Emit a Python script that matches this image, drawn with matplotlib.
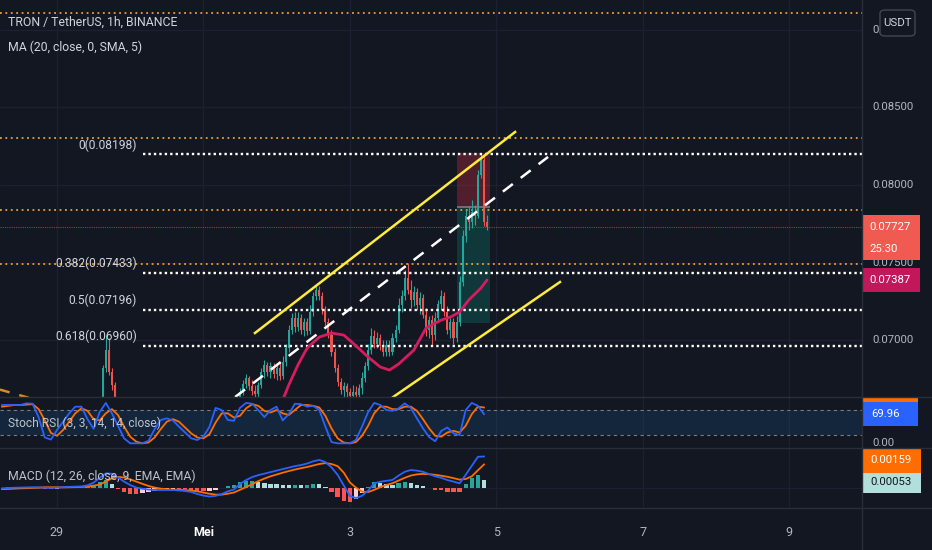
import matplotlib
matplotlib.use("Agg")
import matplotlib.pyplot as plt
import numpy as np
from matplotlib import font_manager
from matplotlib.patches import Rectangle, FancyBboxPatch
from matplotlib.lines import Line2D
from matplotlib.transforms import blended_transform_factory as blend, Bbox, TransformedBbox

# ---------------- data (hours counted from 29 Apr 00:00) ----------------
candle_hours = [15, 16, 17, 18, 19] + list(range(60, 142))
opens = [0.06613, 0.06819, 0.06935, 0.06794, 0.06710,
         0.06613, 0.06665, 0.06716, 0.06755, 0.06703, 0.06671, 0.06652, 0.06710, 0.06794, 0.06839,
         0.06794, 0.06832, 0.06781, 0.06819, 0.06768, 0.06858, 0.06948, 0.07065, 0.07142, 0.07084,
         0.07142, 0.07065, 0.07116, 0.07058, 0.07181, 0.07284, 0.07323, 0.07284, 0.07194, 0.07116,
         0.07032, 0.06923, 0.06819, 0.06729, 0.06677, 0.06703, 0.06665, 0.06639, 0.06665, 0.06645,
         0.06690, 0.06755, 0.06832, 0.06935, 0.07026, 0.06974, 0.07013, 0.06961, 0.06923, 0.06968,
         0.06923, 0.07013, 0.07065, 0.07226, 0.07284, 0.07400, 0.07323, 0.07258, 0.07310, 0.07226,
         0.07271, 0.07161, 0.07065, 0.07129, 0.07032, 0.07142, 0.07232, 0.07284, 0.07181, 0.07065,
         0.07116, 0.07013, 0.07116, 0.07374, 0.07671, 0.07800, 0.07761, 0.07826, 0.07800, 0.08065,
         0.08161, 0.07761]
closes = [0.06819, 0.06935, 0.06794, 0.06710, 0.06626,
          0.06665, 0.06716, 0.06755, 0.06703, 0.06671, 0.06652, 0.06710, 0.06794, 0.06839, 0.06794,
          0.06832, 0.06781, 0.06819, 0.06768, 0.06858, 0.06948, 0.07065, 0.07142, 0.07084, 0.07142,
          0.07065, 0.07116, 0.07058, 0.07181, 0.07284, 0.07323, 0.07284, 0.07194, 0.07116, 0.07032,
          0.06923, 0.06819, 0.06729, 0.06677, 0.06703, 0.06665, 0.06639, 0.06665, 0.06645, 0.06690,
          0.06755, 0.06832, 0.06935, 0.07026, 0.06974, 0.07013, 0.06961, 0.06923, 0.06968, 0.06923,
          0.07013, 0.07065, 0.07226, 0.07284, 0.07400, 0.07323, 0.07258, 0.07310, 0.07226, 0.07271,
          0.07161, 0.07065, 0.07129, 0.07032, 0.07142, 0.07232, 0.07284, 0.07181, 0.07065, 0.07116,
          0.07013, 0.07116, 0.07374, 0.07671, 0.07800, 0.07761, 0.07826, 0.07800, 0.08065, 0.08161,
          0.07761, 0.07727]
highs = [0.06839, 0.07032, 0.07013, 0.06819, 0.06729,
         0.06690, 0.06742, 0.06781, 0.06768, 0.06742, 0.06710, 0.06729, 0.06819, 0.06871, 0.06858,
         0.06858, 0.06852, 0.06852, 0.06858, 0.06897, 0.06974, 0.07097, 0.07174, 0.07181, 0.07181,
         0.07168, 0.07142, 0.07142, 0.07226, 0.07310, 0.07355, 0.07348, 0.07310, 0.07219, 0.07142,
         0.07065, 0.06948, 0.06845, 0.06755, 0.06729, 0.06723, 0.06690, 0.06710, 0.06703, 0.06716,
         0.06794, 0.06858, 0.06974, 0.07077, 0.07065, 0.07052, 0.07039, 0.07000, 0.07000, 0.07000,
         0.07045, 0.07097, 0.07271, 0.07323, 0.07452, 0.07497, 0.07387, 0.07348, 0.07335, 0.07310,
         0.07297, 0.07206, 0.07155, 0.07161, 0.07181, 0.07258, 0.07323, 0.07310, 0.07219, 0.07142,
         0.07142, 0.07155, 0.07413, 0.07710, 0.07839, 0.07865, 0.07903, 0.07871, 0.08097, 0.08198,
         0.08194, 0.07806]
lows = [0.06600, 0.06794, 0.06774, 0.06677, 0.06580,
        0.06600, 0.06645, 0.06690, 0.06677, 0.06645, 0.06613, 0.06626, 0.06690, 0.06755, 0.06768,
        0.06755, 0.06755, 0.06742, 0.06742, 0.06748, 0.06832, 0.06923, 0.07039, 0.07052, 0.07058,
        0.07039, 0.07026, 0.07032, 0.07039, 0.07155, 0.07258, 0.07258, 0.07168, 0.07090, 0.07013,
        0.06897, 0.06794, 0.06703, 0.06652, 0.06626, 0.06626, 0.06600, 0.06600, 0.06613, 0.06613,
        0.06652, 0.06729, 0.06806, 0.06910, 0.06948, 0.06948, 0.06935, 0.06897, 0.06897, 0.06897,
        0.06903, 0.06987, 0.07045, 0.07181, 0.07258, 0.07297, 0.07206, 0.07219, 0.07194, 0.07168,
        0.07142, 0.07026, 0.07013, 0.06961, 0.07000, 0.07116, 0.07194, 0.07155, 0.07039, 0.07013,
        0.06974, 0.06987, 0.07090, 0.07348, 0.07632, 0.07710, 0.07723, 0.07742, 0.07787, 0.08045,
        0.07735, 0.07710]

ma_hours = [71, 74, 76, 79, 82, 86, 90, 94, 97, 102, 106, 109, 112, 117, 121, 126, 129, 132, 135, 139, 141]
ma_vals = [0.06480, 0.06613, 0.06710, 0.06839, 0.06948, 0.07019, 0.07045, 0.07032, 0.06981, 0.06890,
           0.06826, 0.06806, 0.06845, 0.06935, 0.07077, 0.07129, 0.07148, 0.07181, 0.07258, 0.07335, 0.07387]

fib_ratios = ['0', '0.382', '0.5', '0.618']
fib_prices = [0.08198, 0.07433, 0.07196, 0.06960]
orange_levels = [0.09110, 0.08300, 0.07839, 0.07488]

# drawings: (hour, price) end points
upper_line = ([64.9, 150.2], [0.07045, 0.08342])
lower_line = ([110.2, 164.9], [0.06632, 0.07374])
mid_line = ([58.4, 161.0], [0.06632, 0.08181])
old_line = ([-18.7, -8.0], [0.06680, 0.06620])
pos_start, pos_end = 131, 142
pos_stop, pos_entry, pos_target = 0.08205, 0.07858, 0.07110

ind_hours = list(range(-18, 141, 2))
stoch_k = [92, 92, 92, 92, 96, 95, 62, 14, 9, 32,
           52, 72, 88, 88, 58, 35, 75, 97, 72, 42,
           12, 0, 0, 0, 6, 34, 56, 60, 55, 40,
           26, 12, 8, 16, 40, 85, 80, 56, 54, 85,
           97, 95, 80, 63, 80, 88, 55, 70, 95, 94,
           88, 90, 80, 40, 3, 0, 0, 0, 8, 40,
           75, 97, 92, 80, 78, 84, 96, 85, 60, 36,
           15, 5, 30, 38, 24, 20, 80, 97, 90, 70]
stoch_d = [88, 90, 92, 92, 93, 94, 82, 55, 25, 18,
           32, 52, 72, 84, 78, 58, 55, 72, 82, 68,
           40, 16, 4, 0, 2, 14, 34, 52, 58, 52,
           38, 24, 14, 12, 22, 50, 72, 72, 62, 66,
           84, 94, 90, 78, 74, 80, 72, 68, 80, 92,
           92, 90, 86, 66, 36, 12, 2, 0, 3, 18,
           42, 72, 88, 88, 82, 82, 88, 88, 78, 58,
           36, 18, 16, 26, 30, 26, 42, 70, 88, 86]
stoch_last = 69.96

# MACD values in units of 1e-5
macd_line = [0, 2, 4, 5, 6, 7, 7, 4, 3, 4,
             8, 10, 11, 13, 20, 38, 70, 100, 97, 72,
             45, 22, 5, -3, -8, -11, -11, -11, -11, -14,
             -18, -24, -38, -48, -55, -50, -38, -20, -8, 30,
             55, 75, 88, 98, 108, 118, 128, 138, 148, 155,
             165, 180, 189, 175, 140, 90, 20, -50, -65, -50,
             -15, 33, 44, 50, 56, 85, 110, 122, 118, 110,
             95, 80, 70, 55, 45, 33, 90, 150, 210, 212]
macd_signal = [-5, -4, -2, 0, 1, 3, 4, 7, 7, 7,
               6, 7, 8, 9, 12, 18, 25, 45, 67, 76,
               72, 60, 45, 30, 16, 5, -2, -6, -8, -10,
               -12, -15, -20, -28, -36, -42, -42, -36, -28, -10,
               8, 28, 48, 65, 80, 92, 104, 115, 125, 134,
               142, 152, 162, 168, 162, 148, 105, 40, 5, -22,
               -25, -10, 8, 22, 34, 52, 70, 85, 93, 96,
               94, 90, 84, 77, 68, 58, 62, 80, 120, 159]
macd_hist = [5, 6, 6, 5, 5, 4, 3, -3, -4, -3,
             2, 3, 3, 4, 8, 20, 45, 55, 30, -4,
             -27, -38, -40, -33, -24, -16, -9, -5, -3, -4,
             -6, -9, -18, -20, -19, -8, 4, 16, 20, 40,
             47, 47, 40, 33, 28, 26, 24, 23, 23, 21,
             23, 28, 27, 7, -22, -58, -85, -90, -70, -28,
             10, 43, 36, 28, 22, 33, 40, 37, 25, 14,
             1, -10, -14, -22, -23, -25, 28, 70, 90, 53]
signal_last, hist_last = 159, 53

day_hours = [0, 48, 96, 144, 192, 240]
day_labels = ['29', 'Mei', '3', '5', '7', '9']

# ---------------- style ----------------
BG = '#131722'
GRID = '#1c2030'
SEP = '#2a2e39'
TXT = '#d1d4dc'
AXT = '#b2b5be'
UP, DN = '#26a69a', '#ef5350'

names = {f.name for f in font_manager.fontManager.ttflist}
if 'Liberation Sans Narrow' in names:
    FONT, k = 'Liberation Sans Narrow', 1.0
else:
    FONT, k = 'Roboto', 0.82
plt.rcParams['font.family'] = [FONT, 'DejaVu Sans']
FS_AX = 10 * k          # scale labels
FS_HEAD = 10.8 * k      # legend lines

W, H = 932, 550
PX_H = 3.05                      # pixels per hour
X0 = -57 / PX_H
X1 = X0 + W / PX_H
XR = X0 + 862 / PX_H             # right edge of the chart area
AX_R = 862 / W


def frame(y0, y1):
    return [0, 1 - y1 / H, 1, (y1 - y0) / H]


fig = plt.figure(figsize=(W / 100, H / 100), dpi=100, facecolor=BG)
ax_p = fig.add_axes(frame(0, 397))
ax_s = fig.add_axes(frame(398, 448))
ax_m = fig.add_axes(frame(449, 508))
for ax in (ax_p, ax_s, ax_m):
    ax.set_facecolor(BG)
    ax.set_xlim(X0, X1)
    ax.set_xticks([])
    ax.set_yticks([])
    for s in ax.spines.values():
        s.set_visible(False)
    for d in day_hours:
        ax.axvline(d, color=GRID, lw=1, zorder=0)

ax_p.set_ylim(0.066323, 0.091935)
ax_s.set_ylim(-11.2, 108.8)
ax_m.set_ylim(-131, 262)

# ---------------- price pane ----------------
for lv in [0.07, 0.075, 0.08, 0.085, 0.09]:
    ax_p.hlines(lv, X0, XR, color=GRID, lw=1, zorder=0)

ax_p.add_patch(Rectangle((pos_start, pos_entry), pos_end - pos_start, pos_stop - pos_entry,
                         color='#f23645', alpha=0.28, lw=0, zorder=1))
ax_p.add_patch(Rectangle((pos_start, pos_target), pos_end - pos_start, pos_entry - pos_target,
                         color='#089981', alpha=0.25, lw=0, zorder=1))
ax_p.hlines(pos_entry, pos_start, pos_end, color='#787b86', lw=1.2, zorder=2)

for lv in orange_levels:
    ax_p.hlines(lv, X0, XR, color='#f0a030', lw=1.3, linestyles=(0, (1, 2)), zorder=2)
fib_x0 = X0 + 143 / PX_H
for r, lv in zip(fib_ratios, fib_prices):
    ax_p.hlines(lv, fib_x0, XR, color='white', lw=1.7, linestyles=(0, (1, 1.3)), zorder=5)
    ax_p.annotate(f'{r}({lv:.5f})', (X0 + 137 / PX_H, lv), xytext=(0, 2),
                  textcoords='offset points', ha='right', va='bottom',
                  color=TXT, fontsize=10.5 * k, zorder=6)

last_close = closes[-1]
ax_p.hlines(last_close, X0, XR, color=DN, lw=0.8, linestyles=(0, (1, 1)), alpha=0.6, zorder=2)

ch = np.array(candle_hours)
o = np.array(opens)
c = np.array(closes)
cols = np.where(c >= o, UP, DN)
ax_p.vlines(ch, lows, highs, colors=cols, lw=0.8, zorder=3)
ax_p.bar(ch, np.maximum(np.abs(c - o), 0.00004), bottom=np.minimum(o, c), width=0.66,
         color=cols, lw=0, zorder=4)

ax_p.plot(ma_hours, ma_vals, color='#d81b60', lw=2, zorder=5, solid_capstyle='round')

ax_p.plot(*upper_line, color='#ffeb3b', lw=1.8, zorder=6)
ax_p.plot(*lower_line, color='#ffeb3b', lw=1.8, zorder=6)
ax_p.plot(*mid_line, color='white', lw=1.8, dashes=(5, 4), zorder=6)
ax_p.plot(*old_line, color='#d9892c', lw=1.8, dashes=(4, 4), zorder=6)

# price scale
tp = blend(ax_p.transAxes, ax_p.transData)
for lv in [0.09, 0.085, 0.08, 0.075, 0.07]:
    t = ax_p.text(AX_R + 10 / W, lv, f'{lv:.5f}', transform=tp, color=AXT,
                  fontsize=FS_AX, va='center', ha='left', zorder=7)
    if lv == 0.09:
        # the currency button covers this label except for its first characters
        t.set_clip_box(TransformedBbox(Bbox([[AX_R, 0], [880 / W, 1]]), fig.transFigure))
ppx = (0.091935 - 0.066323) / 397
ax_p.add_patch(Rectangle((AX_R, last_close - 33 * ppx), 58 / W, 45 * ppx, transform=tp,
                         color='#f05a50', lw=0, zorder=8))
ax_p.text(AX_R + 7 / W, last_close, f'{last_close:.5f}', transform=tp, color='white',
          fontsize=FS_AX, va='center', ha='left', zorder=9)
ax_p.text(AX_R + 7 / W, last_close - 22 * ppx, '25:30', transform=tp, color='white',
          fontsize=FS_AX, va='center', ha='left', zorder=9)
ma_last = ma_vals[-1]
ax_p.add_patch(Rectangle((AX_R, ma_last - 12 * ppx), 58 / W, 24 * ppx, transform=tp,
                         color='#c2185b', lw=0, zorder=8))
ax_p.text(AX_R + 7 / W, ma_last, f'{ma_last:.5f}', transform=tp, color='white',
          fontsize=FS_AX, va='center', ha='left', zorder=9)

# ---------------- stoch rsi pane ----------------
ax_s.axhspan(20, 80, xmax=AX_R, color='#2196f3', alpha=0.12, lw=0, zorder=1)
for lv in (20, 80):
    ax_s.hlines(lv, X0, XR, color='#787b86', lw=0.8, linestyles=(0, (3, 3)), zorder=2)
ax_s.plot(ind_hours, stoch_k, color='#2962ff', lw=1.3, zorder=4)
ax_s.plot(ind_hours, stoch_d, color='#ff6d00', lw=1.3, zorder=3)
ts = blend(ax_s.transAxes, ax_s.transData)
spx = 120 / 50
ax_s.add_patch(Rectangle((AX_R, stoch_d[-1] - 12 * spx), 56 / W, 24 * spx, transform=ts,
                         color='#ff6d00', lw=0, zorder=6))
ax_s.add_patch(Rectangle((AX_R, stoch_last - 12 * spx), 56 / W, 24 * spx, transform=ts,
                         color='#2962ff', lw=0, zorder=7))
ax_s.text(AX_R + 9 / W, stoch_last, f'{stoch_last:.2f}', transform=ts, color='white',
          fontsize=FS_AX, va='center', ha='left', zorder=8)
ax_s.text(AX_R + 10 / W, 0, '0.00', transform=ts, color=AXT,
          fontsize=FS_AX, va='center', ha='left', zorder=5)

# ---------------- macd pane ----------------
ax_m.hlines(0, X0, XR, color=GRID, lw=1, zorder=0)
hcol = []
prev = 0
for v in macd_hist:
    if v >= 0:
        hcol.append('#26a69a' if v >= prev else '#b2dfdb')
    else:
        hcol.append('#ff5252' if v <= prev else '#ffcdd2')
    prev = v
ax_m.bar(ind_hours, macd_hist, width=1.4, color=hcol, lw=0, zorder=2)
ax_m.plot(ind_hours, macd_line, color='#2962ff', lw=1.3, zorder=4)
ax_m.plot(ind_hours, macd_signal, color='#ff6d00', lw=1.3, zorder=3)
tm = blend(ax_m.transAxes, ax_m.transData)
mpx = 393 / 59
ax_m.add_patch(Rectangle((AX_R, 50 - 12 * mpx), 59 / W, 24 * mpx, transform=tm,
                         color='#b2dfdb', lw=0, zorder=6))
ax_m.text(AX_R + 8 / W, 45, f'{hist_last / 1e5:.5f}', transform=tm, color='#131722',
          fontsize=FS_AX, va='center', ha='left', zorder=8)
ax_m.add_patch(Rectangle((AX_R, signal_last + 25 - 12 * mpx), 59 / W, 24 * mpx, transform=tm,
                         color='#ff6d00', lw=0, zorder=7))
ax_m.text(AX_R + 8 / W, signal_last + 30, f'{signal_last / 1e5:.5f}', transform=tm, color='white',
          fontsize=FS_AX, va='center', ha='left', zorder=8)

# ---------------- frame, labels ----------------
for y in (397, 448, 508):
    fig.add_artist(Line2D([0, 1], [1 - y / H, 1 - y / H], transform=fig.transFigure,
                          color=SEP, lw=1))
fig.add_artist(Line2D([AX_R, AX_R], [0, 1], transform=fig.transFigure, color=SEP, lw=1))

tx = blend(ax_m.transData, fig.transFigure)
for d, lab in zip(day_hours, day_labels):
    bold = lab == 'Mei'
    ax_m.text(d, 1 - 532 / H, lab, transform=tx, ha='center', va='center',
              color='white' if bold else AXT, fontsize=11 * k,
              fontweight='bold' if bold else 'normal', clip_on=False)

fig.text(8 / W, 1 - 22 / H, 'TRON / TetherUS, 1h, BINANCE', color=TXT, fontsize=FS_HEAD, va='center')
fig.text(8 / W, 1 - 47 / H, 'MA (20, close, 0, SMA, 5)', color=TXT, fontsize=FS_HEAD, va='center')
fig.text(8 / W, 1 - 423 / H, 'Stoch RSI (3, 3, 14, 14, close)', color=TXT, fontsize=10.5 * k,
         va='center', alpha=0.9, zorder=10)
fig.text(8 / W, 1 - 476 / H, 'MACD (12, 26, close, 9, EMA, EMA)', color=TXT, fontsize=FS_HEAD,
         va='center', alpha=0.9, zorder=10)

btn = FancyBboxPatch((880 / W, 1 - 36 / H), 35 / W, 26 / H,
                     boxstyle='round,pad=0,rounding_size=0.006', transform=fig.transFigure,
                     facecolor=BG, edgecolor='#434651', lw=1, zorder=20)
fig.add_artist(btn)
fig.text(897.5 / W, 1 - 23 / H, 'USDT', color=TXT, fontsize=FS_AX, ha='center', va='center',
         zorder=21)

fig.savefig('out.png', dpi=100, facecolor=BG)
